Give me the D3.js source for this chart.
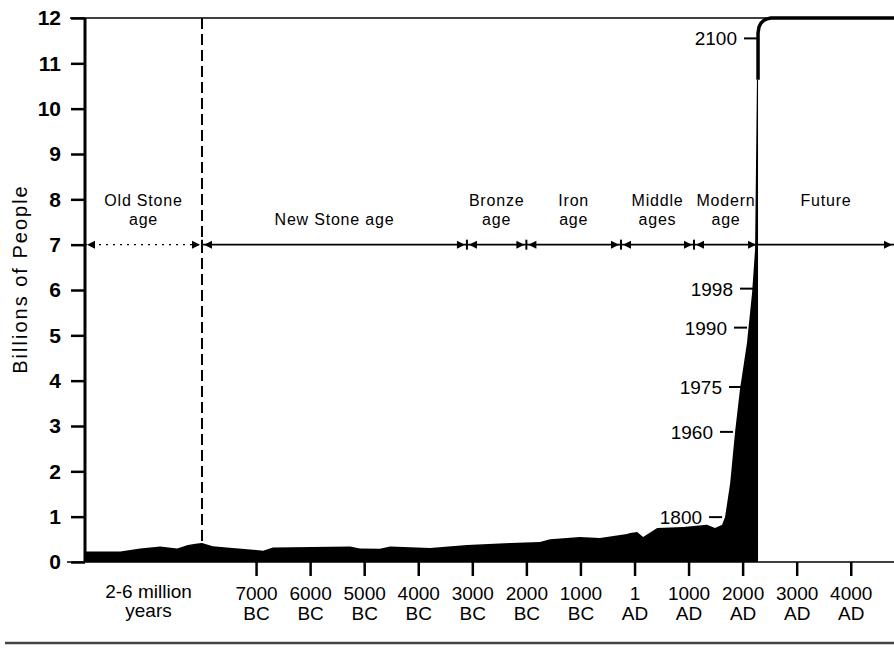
<!DOCTYPE html>
<html>
<head>
<meta charset="utf-8">
<script src="https://cdn.jsdelivr.net/npm/d3@7"></script>
<style>
    body { margin: 0; background: #fff; }
    svg { display: block; font-family: "Liberation Sans", Arial, sans-serif; }
</style>
</head>
<body>
<div id="chart"></div>
<script>
// population silhouette, in axis years (left part is the compressed Old Stone Age) and billions
const popYears = [-2000000, -1400000, -1060000, -720000, -430000, -250000, -90000, -8000,
    -7800, -7540, -6870, -6690, -5260, -5080, -4710, -4520, -3780, -3100, -2300, -1750,
    -1560, -1010, -640, -140, -80, 50, 160, 420, 900, 1340, 1490, 1620, 1675, 1770,
    1860, 1950, 2080, 2175, 2230, 2265, 2285];
const popValues = [0.23, 0.23, 0.30, 0.34, 0.30, 0.375, 0.41, 0.42,
    0.35, 0.32, 0.25, 0.32, 0.34, 0.30, 0.29, 0.34, 0.31, 0.375, 0.42, 0.44,
    0.50, 0.55, 0.53, 0.62, 0.64, 0.66, 0.55, 0.75, 0.77, 0.82, 0.75, 0.82, 0.99, 1.74,
    2.87, 3.80, 4.83, 5.94, 6.89, 10.64, 10.64];

// projection line up to 2100 and beyond
const futureYears = [2285, 2285, 2303, 2340, 2396, 2451, 2525, 4800];
const futureValues = [10.64, 11.67, 11.80, 11.89, 11.95, 11.98, 12, 12];

// year markers along the curve
const markLabels = ["1800", "1960", "1975", "1990", "1998", "2100"];
const markYears = [1620, 1822, 1989, 2081, 2192, 2266];
const markValues = [0.99, 2.87, 3.86, 5.17, 6.03, 11.55];

// eras
const eraLabels = [["Old Stone", "age"], ["", "New Stone age"], ["Bronze", "age"], ["Iron", "age"],
    ["Middle", "ages"], ["Modern", "age"], ["Future", ""]];
const eraBounds = [-2000000, -8000, -3100, -2000, -250, 1100, 2285, 4800];
const eraLevel = 7;

// axes
const yTicks = [0, 1, 2, 3, 4, 5, 6, 7, 8, 9, 10, 11, 12];
const tickYears = [-7000, -6000, -5000, -4000, -3000, -2000, -1000, 1, 1000, 2000, 3000, 4000];
const tickTop = ["7000", "6000", "5000", "4000", "3000", "2000", "1000", "1", "1000", "2000", "3000", "4000"];
const tickBottom = ["BC", "BC", "BC", "BC", "BC", "BC", "BC", "AD", "AD", "AD", "AD", "AD"];
const oldAgeLabel = ["2-6 million", "years"];
const yTitle = "Billions of People";

const W = 894, H = 668;

const svg = d3.select("#chart").append("svg")
    .attr("width", W)
    .attr("height", H);

const x = d3.scaleLinear()
    .domain([-2000000, -8000, 4800])
    .range([85, 202, 894]);

const y = d3.scaleLinear()
    .domain([0, 12])
    .range([562, 18]);

// top frame line at 12
svg.append("line")
    .attr("x1", 70).attr("x2", W)
    .attr("y1", y(12)).attr("y2", y(12))
    .attr("stroke", "#000").attr("stroke-width", 1.6);

// bottom base line
svg.append("line")
    .attr("x1", 67).attr("x2", W)
    .attr("y1", y(0)).attr("y2", y(0))
    .attr("stroke", "#000").attr("stroke-width", 1.6);

// dashed line at start of New Stone Age
svg.append("line")
    .attr("x1", x(-8000)).attr("x2", x(-8000))
    .attr("y1", y(12)).attr("y2", y(0))
    .attr("stroke", "#000")
    .attr("stroke-width", 2)
    .attr("stroke-dasharray", "11,5");

// era band
const eraY = y(eraLevel);
const eraG = svg.append("g").attr("class", "eras");

eraLabels.forEach((lines, i) => {
    const x0 = x(eraBounds[i]);
    const x1 = x(eraBounds[i + 1]);

    eraG.append("line")
        .attr("x1", x0).attr("x2", x1)
        .attr("y1", eraY).attr("y2", eraY)
        .attr("stroke", "#000")
        .attr("stroke-width", i === 0 ? 1.2 : 1.6)
        .attr("stroke-dasharray", i === 0 ? "2,5" : null);

    // arrow pointing left at era start (none after the curve)
    if (i < eraLabels.length - 1) {
        eraG.append("path")
            .attr("d", `M${x0 + 2},${eraY} L${x0 + 10},${eraY - 4} L${x0 + 10},${eraY + 4} Z`)
            .attr("fill", "#000");
    }
    // arrow pointing right at era end
    eraG.append("path")
        .attr("d", `M${x1 - 2},${eraY} L${x1 - 10},${eraY - 4} L${x1 - 10},${eraY + 4} Z`)
        .attr("fill", "#000");

    if (i > 0 && i < eraLabels.length - 1) {
        eraG.append("line")
            .attr("x1", x0).attr("x2", x0)
            .attr("y1", eraY - 5).attr("y2", eraY + 5)
            .attr("stroke", "#000").attr("stroke-width", 2);
    }

    const cx = (x0 + x1) / 2;
    lines.forEach((t, k) => {
        if (!t) return;
        eraG.append("text")
            .attr("x", cx)
            .attr("y", k === 0 ? 206 : 225)
            .attr("text-anchor", "middle")
            .style("font-size", "16px")
            .style("letter-spacing", "0.8px")
            .text(t);
    });
});

// population silhouette
const popData = popYears.map((d, i) => ({ year: d, value: popValues[i] }));

const area = d3.area()
    .x(d => x(d.year))
    .y0(y(0))
    .y1(d => y(d.value));

svg.append("path")
    .datum(popData)
    .attr("d", area)
    .attr("fill", "#000");

// projection line
const futureData = futureYears.map((d, i) => ({ year: d, value: futureValues[i] }));

const line = d3.line()
    .x(d => x(d.year))
    .y(d => y(d.value));

svg.append("path")
    .datum(futureData)
    .attr("d", line)
    .attr("fill", "none")
    .attr("stroke", "#000")
    .attr("stroke-width", 3.5)
    .attr("stroke-linejoin", "round");

// y axis
const yAxis = svg.append("g")
    .attr("transform", `translate(${x(-2000000)},0)`)
    .call(d3.axisLeft(y).tickValues(yTicks).tickSize(14).tickPadding(10).tickFormat(d3.format("d")));

yAxis.select(".domain").remove();
yAxis.selectAll(".tick line")
    .attr("stroke", "#000")
    .attr("stroke-width", 2.5);
yAxis.selectAll(".tick text")
    .attr("fill", "#000")
    .style("font-family", "'Liberation Sans', Arial, sans-serif")
    .style("font-size", "21px")
    .style("font-weight", "bold");

svg.append("line")
    .attr("x1", x(-2000000)).attr("x2", x(-2000000))
    .attr("y1", y(12)).attr("y2", y(0))
    .attr("stroke", "#000")
    .attr("stroke-width", 3);

svg.append("text")
    .attr("transform", `translate(27, ${(y(0) + y(12)) / 2 - 11}) rotate(-90)`)
    .attr("text-anchor", "middle")
    .style("font-size", "20px")
    .style("letter-spacing", "2px")
    .text(yTitle);

// x axis
const xAxis = svg.append("g")
    .attr("transform", `translate(0,${y(0)})`)
    .call(d3.axisBottom(x).tickValues(tickYears).tickSize(14).tickFormat(""));

xAxis.select(".domain").remove();
xAxis.selectAll(".tick line")
    .attr("stroke", "#000")
    .attr("stroke-width", 2.5);

xAxis.selectAll(".tick").each(function (d, i) {
    const g = d3.select(this);
    g.append("text")
        .attr("y", 38)
        .attr("text-anchor", "middle")
        .attr("fill", "#000")
        .style("font-family", "'Liberation Sans', Arial, sans-serif")
        .style("font-size", "19px")
        .text(tickTop[i]);
    g.append("text")
        .attr("y", 58)
        .attr("text-anchor", "middle")
        .attr("fill", "#000")
        .style("font-family", "'Liberation Sans', Arial, sans-serif")
        .style("font-size", "19px")
        .text(tickBottom[i]);
});

const oldCx = (x(eraBounds[0]) + x(eraBounds[1])) / 2 + 5;
oldAgeLabel.forEach((t, k) => {
    svg.append("text")
        .attr("x", oldCx)
        .attr("y", y(0) + 36 + k * 19)
        .attr("text-anchor", "middle")
        .style("font-size", "19px")
        .text(t);
});

// year markers
const markG = svg.append("g").attr("class", "markers");
markLabels.forEach((t, i) => {
    const mx = x(markYears[i]);
    const my = y(markValues[i]);
    markG.append("line")
        .attr("x1", mx - 13).attr("x2", mx)
        .attr("y1", my).attr("y2", my)
        .attr("stroke", "#000").attr("stroke-width", 2);
    markG.append("text")
        .attr("x", mx - 20)
        .attr("y", my + 7)
        .attr("text-anchor", "end")
        .style("font-size", "19px")
        .text(t);
});

// bottom rule of the figure
svg.append("line")
    .attr("x1", 5).attr("x2", W)
    .attr("y1", 643).attr("y2", 643)
    .attr("stroke", "#444")
    .attr("stroke-width", 2.5);
</script>
</body>
</html>
